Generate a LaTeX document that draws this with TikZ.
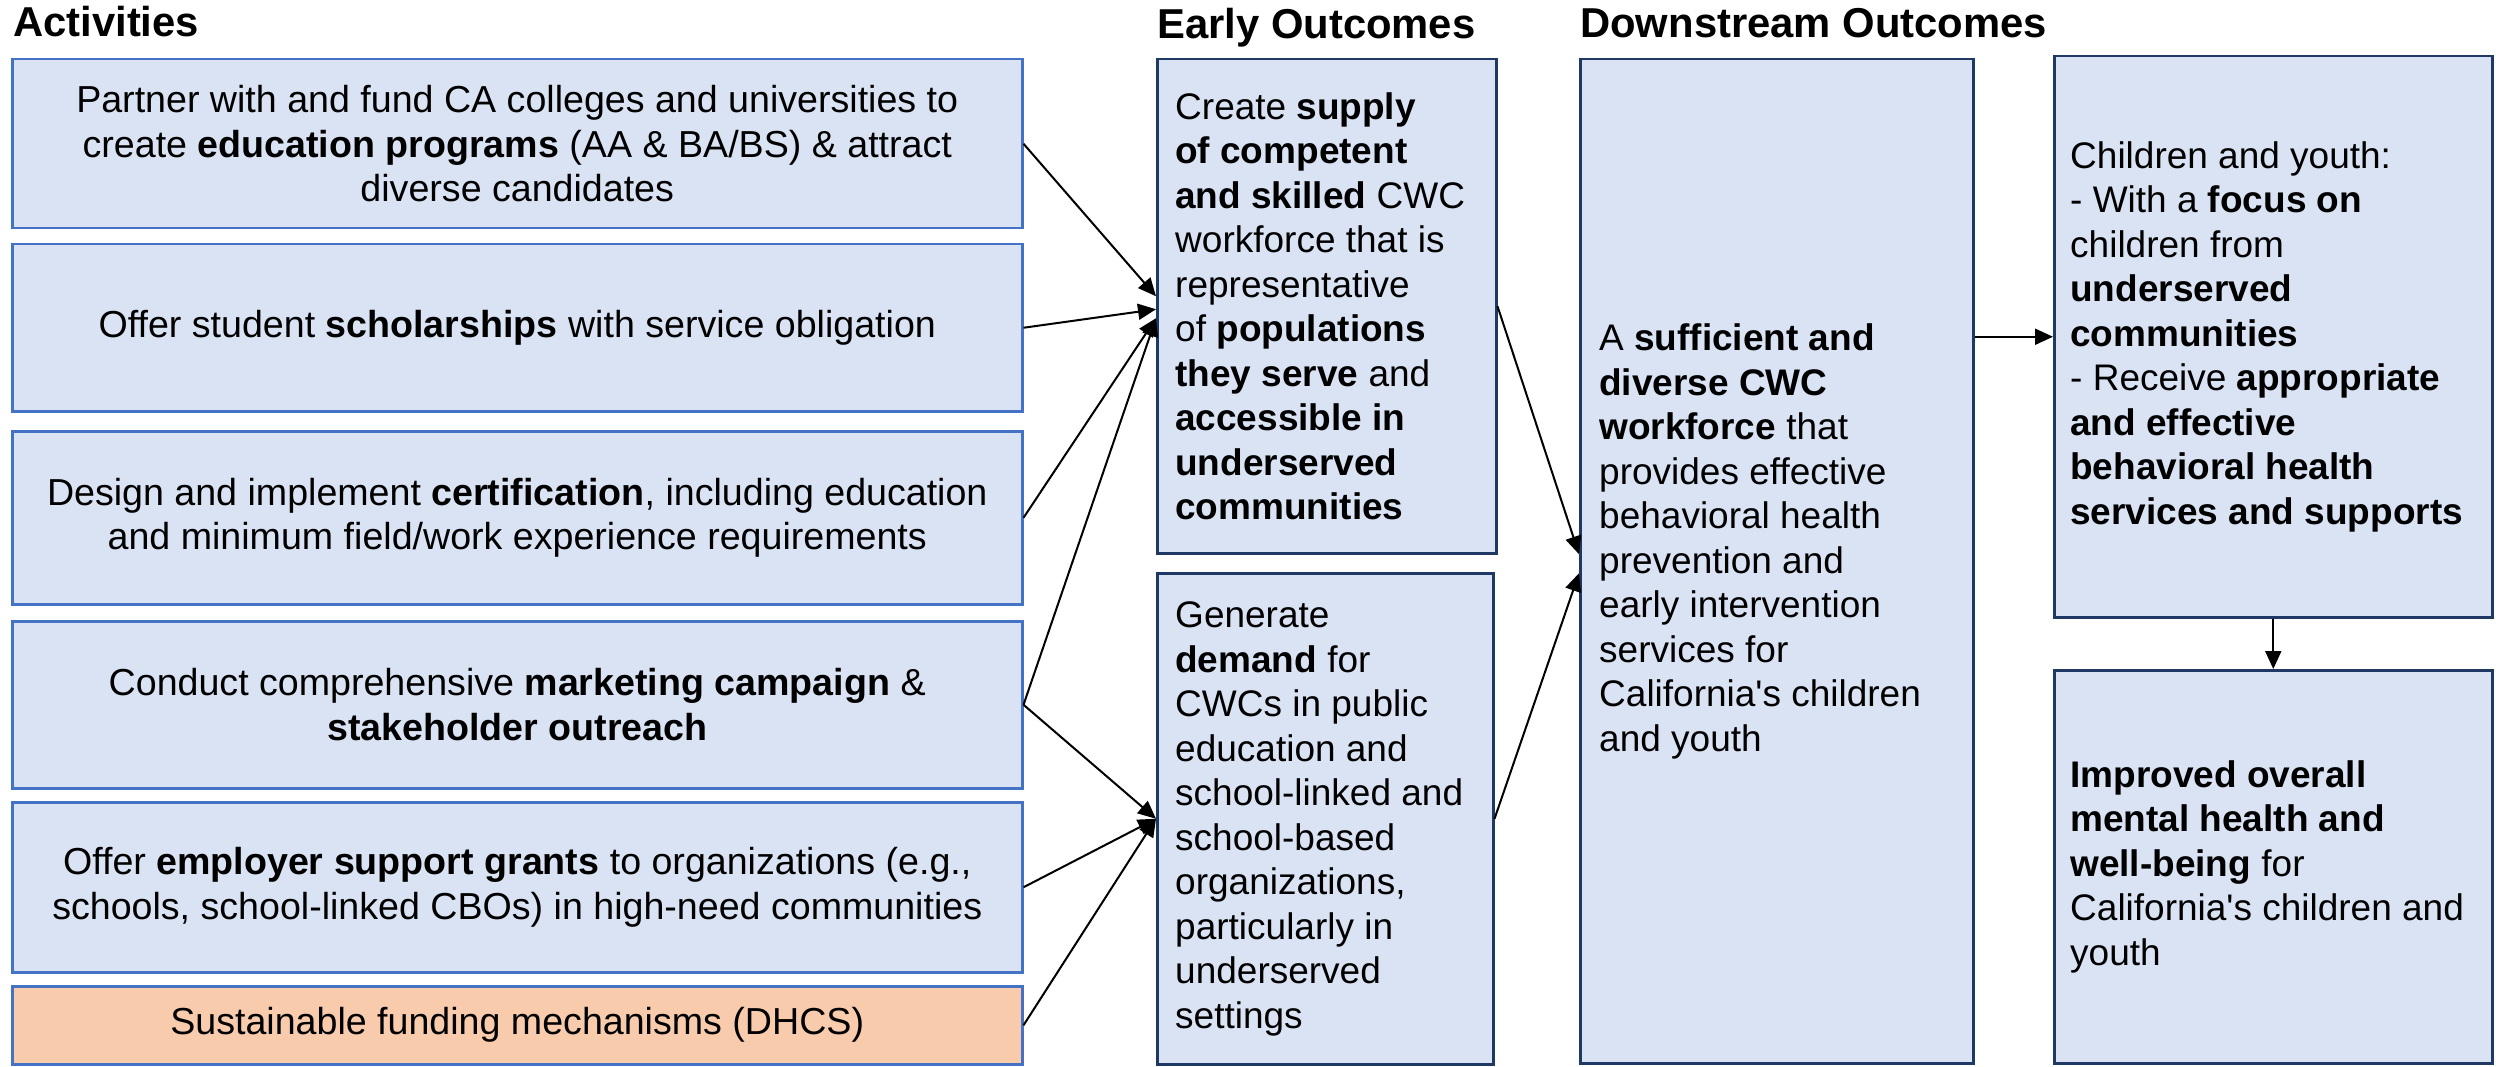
\documentclass[tikz,border=0pt]{standalone}
\usepackage{fontspec}
\setmainfont{Liberation Sans}[Ligatures=TeXOff]
\usetikzlibrary{arrows.meta,calc}
\definecolor{boxfill}{HTML}{DAE3F3}
\definecolor{ablue}{HTML}{4472C4}
\definecolor{navy}{HTML}{203864}
\definecolor{orangefill}{HTML}{F8CBAD}
\newcommand\mybodyfont{\fontsize{37}{44.5}\selectfont}
\newcommand\myactfont{\fontsize{37.6}{44.5}\selectfont}
\newcommand\mytitlefont{\fontsize{41.8}{48}\selectfont\bfseries}
\tikzset{
  actbox/.style={draw=ablue, fill=boxfill, line width=2.5pt, minimum width=1010pt,
    anchor=north west, align=center, inner sep=0pt, font=\myactfont},
  outbox/.style={draw=navy, fill=boxfill, line width=2.5pt, anchor=north west, inner sep=0pt},
  txt/.style={inner sep=0pt, align=left, anchor=west, font=\mybodyfont},
  ttl/.style={inner sep=0pt, anchor=base west, font=\mytitlefont},
  arr/.style={line width=2pt, -{Triangle[length=18pt,width=16pt]}},
}
\begin{document}
\begin{tikzpicture}[x=1pt,y=-1pt]
\useasboundingbox (0,0) rectangle (2496,1067);
% titles
\node[ttl] (t1) at (13,37) {Activities};
\node[ttl] (t2) at (1157,39) {Early Outcomes};
\node[ttl] (t3) at (1580,38) {Downstream Outcomes};
% activities
\node[actbox, minimum height=169pt] (a1) at (11,58)
  {Partner with and fund CA colleges and universities to\\ create \textbf{education programs} (AA \& BA/BS) \& attract\\ diverse candidates};
\node[actbox, minimum height=167pt] (a2) at (11,243)
  {Offer student \textbf{scholarships} with service obligation};
\node[actbox, minimum height=173pt] (a3) at (11,430)
  {Design and implement \textbf{certification}, including education\\ and minimum field/work experience requirements};
\node[actbox, minimum height=167pt] (a4) at (11,620)
  {Conduct comprehensive \textbf{marketing campaign} \&\\ \textbf{stakeholder outreach}};
\node[actbox, minimum height=170pt] (a5) at (11,801)
  {Offer \textbf{employer support grants} to organizations (e.g.,\\ schools, school-linked CBOs) in high-need communities};
\node[actbox, fill=orangefill, minimum height=78pt] (a6) at (11,985)
  {Sustainable funding mechanisms (DHCS)};
% early outcomes
\node[outbox, minimum width=339pt, minimum height=494pt] (e1) at (1156,58) {};
\node[txt] (e1t) at ([xshift=19pt]e1.west)
  {Create \textbf{supply}\\ \textbf{of competent}\\ \textbf{and skilled} CWC\\ workforce that is\\ representative\\ of \textbf{populations}\\ \textbf{they serve} and\\ \textbf{accessible in}\\ \textbf{underserved}\\ \textbf{communities}};
\node[outbox, minimum width=336pt, minimum height=491pt] (e2) at (1156,572) {};
\node[txt] (e2t) at ([xshift=19pt]e2.west)
  {Generate\\ \textbf{demand} for\\ CWCs in public\\ education and\\ school-linked and\\ school-based\\ organizations,\\ particularly in\\ underserved\\ settings};
% downstream outcomes
\node[outbox, minimum width=393pt, minimum height=1004pt] (d1) at (1579,58) {};
\node[txt] (d1t) at ([xshift=20pt,yshift=20pt]d1.west)
  {A \textbf{sufficient and}\\ \textbf{diverse CWC}\\ \textbf{workforce} that\\ provides effective\\ behavioral health\\ prevention and\\ early intervention\\ services for\\ California's children\\ and youth};
\node[outbox, minimum width=438pt, minimum height=561pt] (d2) at (2053,55) {};
\node[txt] (d2t) at ([xshift=17pt]d2.west)
  {Children and youth:\\ - With a \textbf{focus on}\\ children from\\ \textbf{underserved}\\ \textbf{communities}\\ - Receive \textbf{appropriate}\\ \textbf{and effective}\\ \textbf{behavioral health}\\ \textbf{services and supports}};
\node[outbox, minimum width=438pt, minimum height=393pt] (d3) at (2053,669) {};
\node[txt] (d3t) at ([xshift=17pt]d3.west)
  {\textbf{Improved overall}\\ \textbf{mental health and}\\ \textbf{well-being} for\\ California's children and\\ youth};
% connectors
\draw[arr] (a1.east) -- ([yshift=10pt]e1.west);
\draw[arr] (a2.east) -- ([yshift=-3pt]e1.west);
\draw[arr] (a3.east) -- ([yshift=-12pt]e1.west);
\draw[arr] (a4.east) -- ([yshift=-12pt]e1.west);
\draw[arr] (a4.east) -- (e2.west);
\draw[arr] (a5.east) -- (e2.west);
\draw[arr] (a6.east) -- (e2.west);
\draw[arr] (e1.east) -- ([yshift=7pt]d1.west);
\draw[arr] (e2.east) -- ([yshift=-12pt]d1.west);
\draw[arr] (d2.west -| d1.east) -- (d2.west);
\draw[arr] (d2.south) -- (d3.north);
\end{tikzpicture}
\end{document}
